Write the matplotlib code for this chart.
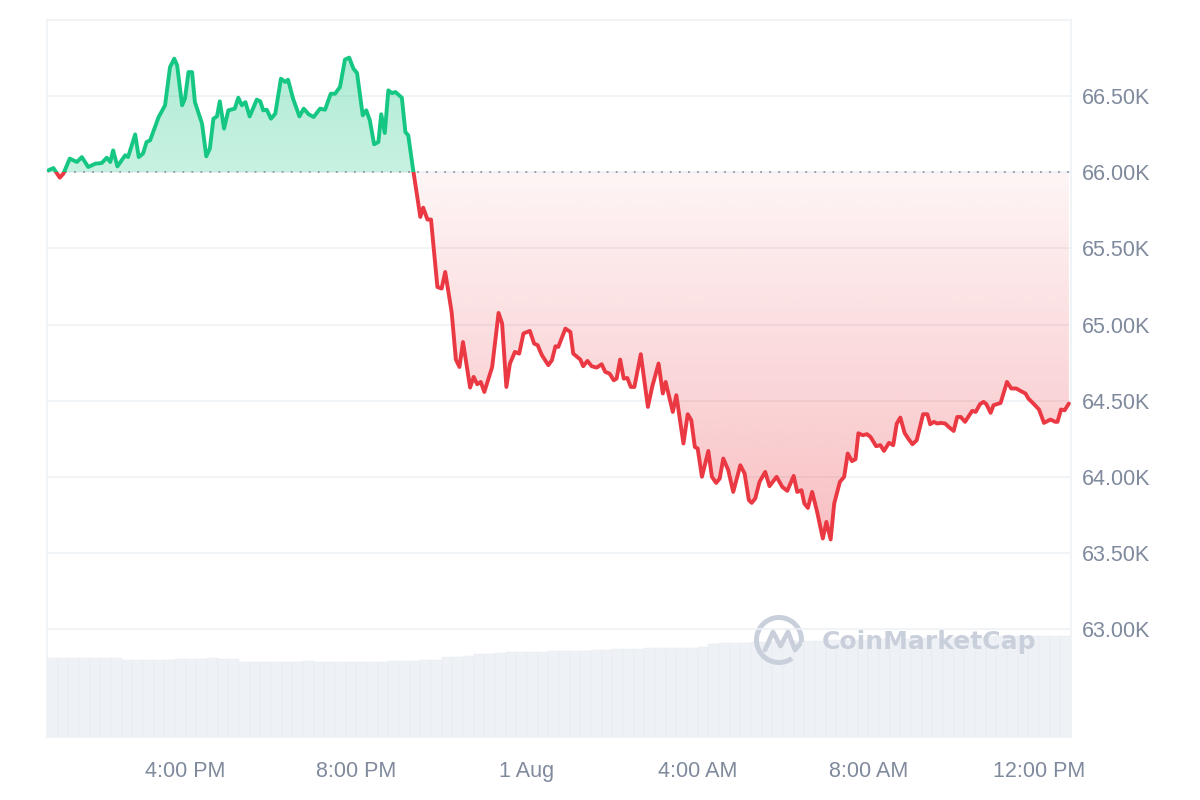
import numpy as np
import matplotlib
matplotlib.use("Agg")
import matplotlib.pyplot as plt
from matplotlib.patches import Rectangle, Arc
from matplotlib.path import Path
from matplotlib.lines import Line2D
from matplotlib.transforms import IdentityTransform
from matplotlib.colors import to_rgb


# BTC price, 31 Jul 12:45 PM -> 1 Aug 12:45 PM
# minutes since 12:45 PM, price in thousands of USD
minutes = [2, 9, 18, 23, 32, 42, 49, 58, 68, 77,
           84, 89, 93, 99, 110, 114, 124, 129, 135, 140,
           145, 157, 166, 173, 179, 183, 190, 194, 199, 204,
           208, 218, 224, 229, 234, 239, 243, 249, 255, 264,
           269, 274, 279, 285, 295, 300, 304, 309, 315, 321,
           329, 335, 339, 346, 355, 361, 368, 375, 384, 391,
           399, 405, 412, 419, 425, 431, 436, 444, 449, 454,
           460, 466, 470, 475, 480, 485, 490, 499, 504, 508,
           515,
           525, 529, 535, 540, 549, 555, 560, 569, 575, 580,
           585, 595, 600, 605, 610, 615, 626, 635, 640, 646,
           651, 658, 664, 670, 679, 685, 690, 696, 705, 710,
           715, 719, 729, 736, 740, 750, 754, 760, 766, 773,
           780, 785, 791, 797, 801, 806, 811, 816, 821, 826,
           835,
           845, 851, 860, 866, 870, 880, 885, 895, 901, 906,
           911, 915, 921, 930, 935, 941, 946, 951, 958, 965,
           975, 981, 987, 991, 996, 1002, 1010, 1016, 1026, 1034,
           1041, 1050, 1055, 1061, 1065, 1070, 1076, 1083, 1091, 1096,
           1102, 1107, 1115, 1121, 1126, 1132, 1137, 1141, 1147, 1153,
           1158, 1166, 1172, 1177, 1184, 1190,
           1195, 1200, 1206, 1212, 1217, 1223, 1232, 1238, 1242, 1247,
           1252, 1257, 1263, 1268, 1275, 1280, 1285, 1291, 1301, 1306,
           1312, 1317, 1321, 1327, 1331, 1341, 1345, 1350, 1356, 1363,
           1369, 1376, 1380, 1388, 1395, 1402, 1411, 1418, 1421, 1426,
           1431, 1437]

price_k = [66.013, 66.028, 65.965, 65.991, 66.090, 66.068, 66.100, 66.035, 66.057, 66.061,
           66.096, 66.068, 66.144, 66.039, 66.112, 66.100, 66.249, 66.100, 66.123, 66.199,
           66.210, 66.363, 66.440, 66.691, 66.746, 66.702, 66.440, 66.484, 66.658, 66.658,
           66.461, 66.320, 66.105, 66.156, 66.352, 66.367, 66.466, 66.287, 66.407, 66.418,
           66.490, 66.440, 66.461, 66.367, 66.477, 66.466, 66.407, 66.411, 66.352, 66.385,
           66.615, 66.593, 66.608, 66.484, 66.367, 66.418, 66.381, 66.363, 66.418, 66.411,
           66.516, 66.516, 66.560, 66.740, 66.753, 66.680, 66.652, 66.374, 66.407, 66.341,
           66.184, 66.199, 66.381, 66.258, 66.538, 66.520, 66.527, 66.490, 66.264, 66.243,
           66.013,
           65.707, 65.768, 65.690, 65.690, 65.247, 65.237, 65.346, 65.083, 64.771, 64.722,
           64.886, 64.587, 64.657, 64.609, 64.624, 64.558, 64.722, 65.077, 65.007, 64.591,
           64.745, 64.821, 64.810, 64.942, 64.959, 64.876, 64.865, 64.799, 64.734, 64.766,
           64.858, 64.854, 64.974, 64.952, 64.810, 64.771, 64.727, 64.762, 64.727, 64.718,
           64.740, 64.690, 64.679, 64.635, 64.646, 64.771, 64.646, 64.650, 64.591, 64.591,
           64.806,
           64.460, 64.591, 64.745, 64.548, 64.624, 64.427, 64.537, 64.220, 64.412, 64.373,
           64.197, 64.187, 64.001, 64.171, 64.001, 63.961, 63.990, 64.121, 64.045, 63.902,
           64.077, 64.023, 63.848, 63.830, 63.859, 63.968, 64.033, 63.940, 64.001, 63.935,
           63.909, 64.007, 63.902, 63.913, 63.826, 63.797, 63.902, 63.771, 63.596, 63.705,
           63.590, 63.826, 63.968, 64.001, 64.154, 64.104, 64.117, 64.287, 64.274, 64.281,
           64.263, 64.202, 64.209, 64.171, 64.224, 64.209,
           64.351, 64.390, 64.289, 64.246, 64.215, 64.241, 64.412, 64.412, 64.346, 64.362,
           64.351, 64.355, 64.351, 64.329, 64.302, 64.394, 64.394, 64.362, 64.434, 64.427,
           64.478, 64.493, 64.478, 64.421, 64.471, 64.486, 64.548, 64.624, 64.581, 64.581,
           64.565, 64.548, 64.515, 64.478, 64.443, 64.355, 64.377, 64.362, 64.362, 64.443,
           64.438, 64.482]

open_k = 66.00

# 24h volume, one bar per 15 min, billions of USD
volume_b = [31.5, 31.5, 31.5, 31.6, 31.5, 31.7, 31.6,
            30.9, 30.8, 30.8, 30.8, 30.9,
            31.4, 31.2, 31.1, 31.5, 31.2, 31.1,
            30.0, 30.0, 30.0, 29.9, 30.0, 30.0,
            30.4, 30.2, 30.1, 30.1, 30.1, 30.1, 30.0, 30.1,
            30.6, 30.4, 30.5,
            30.8, 30.9,
            31.9, 32.1, 32.3,
            33.1, 33.3,
            33.8, 33.9, 33.9, 34.0, 34.1,
            34.5, 34.6, 34.6, 34.6, 34.7, 34.8, 35.1,
            35.3, 35.4, 35.5, 35.5, 35.6, 35.6, 35.8, 36.2,
            37.2, 37.6, 37.7, 37.8,
            38.1, 38.2, 38.3, 38.4, 38.4, 38.5, 38.6, 38.7, 38.8,
            38.9, 39.0, 39.1, 39.1, 39.2, 39.3, 39.4, 39.5, 39.6, 39.8,
            40.0, 40.1, 40.2, 40.3, 40.4, 40.4, 40.5, 40.5, 40.5, 40.6, 40.6]
vol_step = 15

start_clock = 12.75   # hours after 31 Jul 00:00
tick_clock = [16, 20, 24, 28, 32, 36]
tick_text = ["4:00 PM", "8:00 PM", "1 Aug", "4:00 AM", "8:00 AM", "12:00 PM"]
price_ticks = [63.0, 63.5, 64.0, 64.5, 65.0, 65.5, 66.0, 66.5]

GREEN = "#16c784"
RED = "#ea3943"
GREY = "#808a9d"
FRAME = "#eff2f5"

plt.rcParams["font.family"] = ["Liberation Sans", "DejaVu Sans"]

fig = plt.figure(figsize=(12, 8), dpi=100)
pos = [47 / 1200, 1 - 737 / 800, (1071 - 47) / 1200, (737 - 20) / 800]
axv = fig.add_axes(pos, zorder=0)
ax = fig.add_axes(pos, zorder=1)
ax.patch.set_visible(False)

x = np.array(minutes, dtype=float)
y = np.array(price_k)
x_end = 1440
y_lo, y_hi = 62.293, 67.0

# volume bars at the bottom
vx = np.arange(len(volume_b)) * vol_step + vol_step / 2
axv.bar(vx, volume_b, width=vol_step, color="#eef1f5", edgecolor="#e7eaef", linewidth=0.3)
axv.set_xlim(0, x_end)
axv.set_ylim(0, 286.8)
axv.axis("off")


def gradient_area(mask, color, a_lo, a_hi, lo, hi):
    coll = ax.fill_between(x, y, open_k, where=mask, interpolate=True,
                           facecolor="none", edgecolor="none")
    clip = Path.make_compound_path(*coll.get_paths())
    rgba = np.zeros((256, 1, 4))
    rgba[..., :3] = to_rgb(color)
    rgba[:, 0, 3] = np.linspace(a_lo, a_hi, 256)
    im = ax.imshow(rgba, extent=[0, x_end, lo, hi], origin="lower",
                   aspect="auto", interpolation="bilinear", zorder=1)
    im.set_clip_path(clip, ax.transData)


gradient_area(y >= open_k, GREEN, 0.24, 0.34, open_k, y.max())
gradient_area(y <= open_k, RED, 0.32, 0.05, y.min(), open_k)

# line: green above the open price, red below
for color, rect in [(GREEN, Rectangle((0, open_k), x_end, 5, transform=ax.transData)),
                    (RED, Rectangle((0, open_k - 5), x_end, 5, transform=ax.transData))]:
    ln, = ax.plot(x, y, color=color, lw=2.8, solid_joinstyle="round",
                  solid_capstyle="round", zorder=3)
    ln.set_clip_path(rect)

ax.axhline(open_k, color="#8f97a5", lw=1.3, ls=(0, (1, 4)), zorder=2)

ax.set_xlim(0, x_end)
ax.set_ylim(y_lo, y_hi)
ax.set_yticks(price_ticks)
ax.set_yticklabels([f"{v:.2f}K" for v in price_ticks])
ax.set_xticks([(h - start_clock) * 60 for h in tick_clock])
ax.set_xticklabels(tick_text)
ax.yaxis.tick_right()
ax.tick_params(axis="y", length=0, pad=8, labelsize=15.5, labelcolor=GREY)
ax.tick_params(axis="x", length=0, pad=17, labelsize=15.5, labelcolor=GREY)
ax.grid(axis="y", color=FRAME, lw=1.2)
ax.set_axisbelow(True)
for s in ax.spines.values():
    s.set_color(FRAME)
    s.set_linewidth(1.2)

# watermark
wm = "#c9d0db"
fig.text(822 / 1200, 1 - 642 / 800, "CoinMarketCap", family="DejaVu Sans",
         weight="bold", size=18, color=wm, va="center", ha="left")
fig.add_artist(Arc((779, 160), 45, 45, theta1=-5, theta2=305, lw=3.6,
                   color=wm, transform=IdentityTransform()))
fig.add_artist(Line2D([765, 773, 780.5, 788, 795, 800], [150, 168, 154, 168, 150, 156],
                      lw=3.4, color=wm, solid_joinstyle="round", solid_capstyle="round",
                      transform=IdentityTransform()))

fig.savefig("out.png", dpi=100, facecolor="white")
